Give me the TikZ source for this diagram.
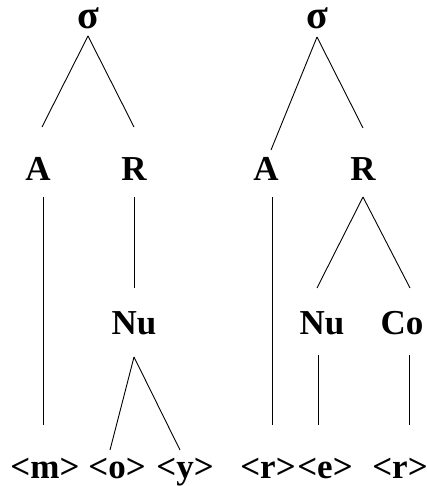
\documentclass[tikz,border=0pt]{standalone}
\usepackage{fontspec}
\setmainfont{Liberation Serif}
\begin{document}
\begin{tikzpicture}
      [x=1pt, y=-1pt,
      every node/.style={inner sep=0pt, anchor=base, font=\fontsize{35}{40}\selectfont\bfseries},
      root/.style={font=\fontsize{40}{46}\selectfont\bfseries},
      leaf/.style={font=\fontsize{35}{40}\selectfont\bfseries},
      every path/.style={line width=0.9pt},
      ]
      \useasboundingbox (0,0) rectangle (427,486);
      % first syllable
      \node[root] (sigL) at (88,29) {σ};
      \node (aL) at (38,181) {A};
      \node (rL) at (134,181) {R};
      \node (nuL) at (134,334) {Nu};
      \node[leaf] (m) at (45,478) {<m>};
      \node[leaf] (o) at (117,478) {<o>};
      \node[leaf] (y) at (185,478) {<y>};
      \draw ([yshift=-7pt]sigL.base) -- ([xshift=4pt,yshift=54pt]aL.base);
      \draw ([yshift=-7pt]sigL.base) -- ([yshift=54pt]rL.base);
      \draw ([xshift=5pt,yshift=-16pt]aL.base) -- ([xshift=5pt,yshift=53pt]aL.base |- m.base);
      \draw ([yshift=-16pt]rL.base) -- ([yshift=46pt]nuL.base);
      \draw ([yshift=-23pt]nuL.base) -- ([xshift=-7pt,yshift=28pt]o.base);
      \draw ([yshift=-23pt]nuL.base) -- ([xshift=-5pt,yshift=28pt]y.base);
      % second syllable
      \node[root] (sigR) at (317,29) {σ};
      \node (aR) at (266,181) {A};
      \node (rR) at (363,181) {R};
      \node (nuR) at (322,334) {Nu};
      \node (coR) at (402,334) {Co};
      \node[leaf] (r1) at (268,478) {<r>};
      \node[leaf] (e) at (325,478) {<e>};
      \node[leaf] (r2) at (400,478) {<r>};
      \draw ([yshift=-8pt]sigR.base) -- ([xshift=5pt,yshift=31pt]aR.base);
      \draw ([yshift=-8pt]sigR.base) -- ([yshift=53pt]rR.base);
      \draw ([xshift=6pt,yshift=-16pt]aR.base) -- ([xshift=6pt,yshift=53pt]aR.base |- r1.base);
      \draw ([yshift=-16pt]rR.base) -- ([xshift=-5pt,yshift=46pt]nuR.base);
      \draw ([yshift=-16pt]rR.base) -- ([xshift=8pt,yshift=46pt]coR.base);
      \draw ([xshift=-4pt,yshift=-21pt]nuR.base) -- ([xshift=-4pt,yshift=53pt]nuR.base |- e.base);
      \draw ([xshift=7pt,yshift=-21pt]coR.base) -- ([xshift=7pt,yshift=53pt]coR.base |- r2.base);
\end{tikzpicture}
\end{document}
